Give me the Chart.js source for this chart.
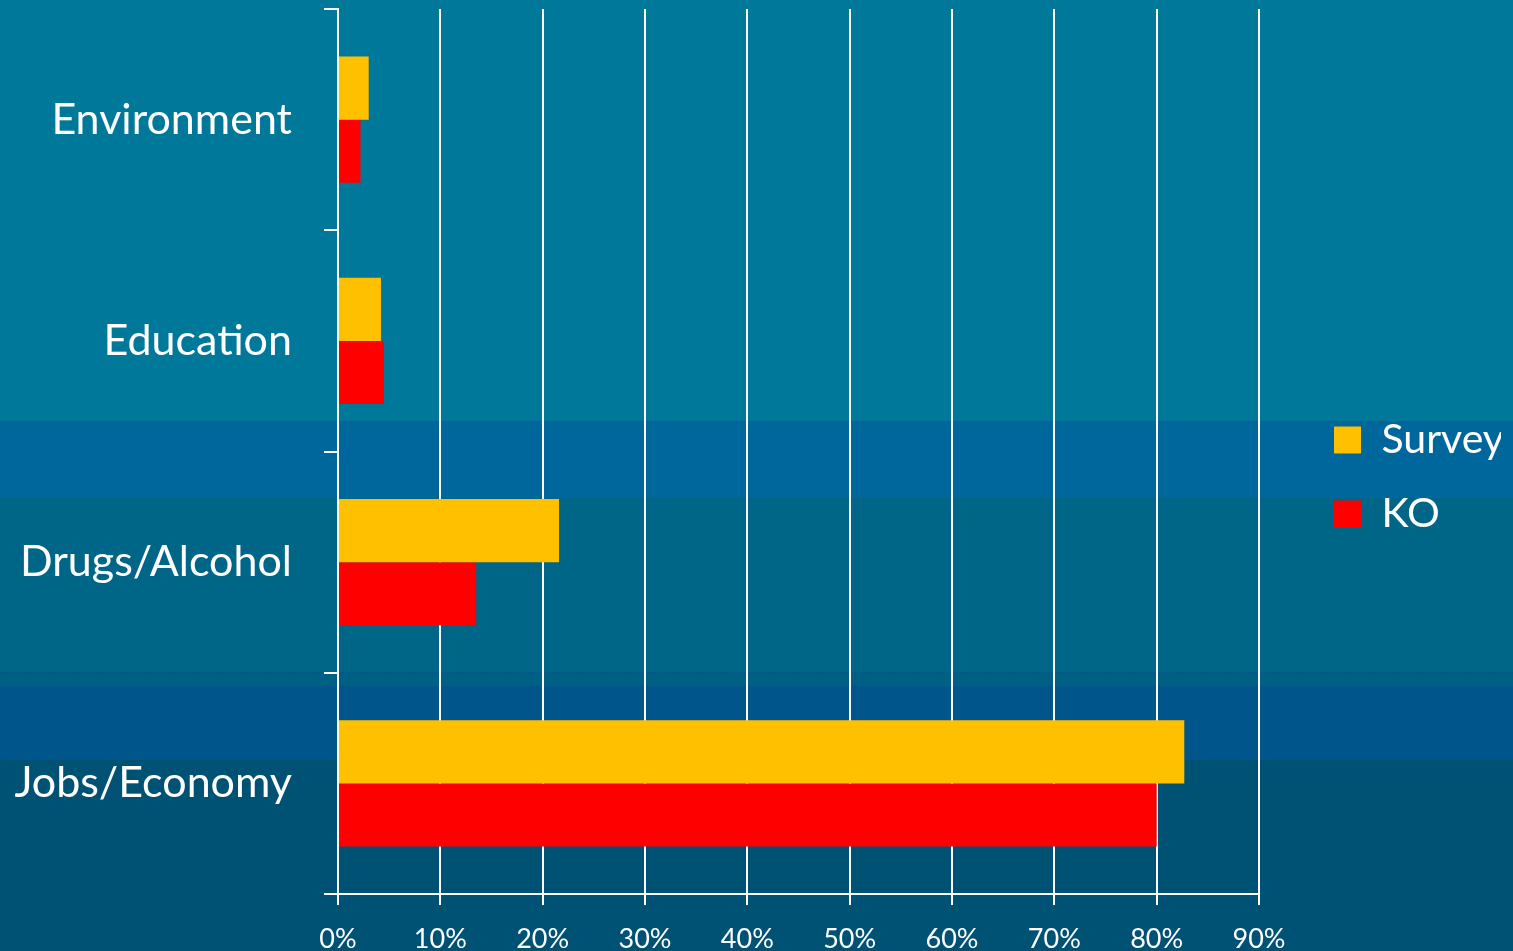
<!DOCTYPE html>
<html>
<head>
<meta charset="utf-8">
<script src="https://cdn.jsdelivr.net/npm/chart.js@4/dist/chart.umd.min.js"></script>
<style>
  html, body { margin: 0; padding: 0; background: #00789a; }
  #wrap { width: 1513px; height: 951px; position: relative; }
</style>
</head>
<body>
<div id="wrap"><canvas id="c" width="1513" height="951"></canvas></div>
<script>
const categories = ['Environment', 'Education', 'Drugs/Alcohol', 'Jobs/Economy'];
const surveyValues = [3.0, 4.2, 21.6, 82.7];
const koValues = [2.2, 4.5, 13.5, 80.0];
const seriesNames = ['Survey', 'KO'];
const xTickMax = 90;
const xTickStep = 10;

const FONT = 'Lato, "Open Sans", sans-serif';
const LEGEND_PAD = 33;

const bgBands = {
  id: 'bgBands',
  beforeDraw(chart) {
    const ctx = chart.ctx;
    const W = chart.width, H = chart.height;
    const bands = [
      [0, 421, '#00789a'],
      [421, 498, '#00679c'],
      [498, 672, '#006687'],
      [672, 686, '#006084'],
      [686, 760, '#00568a'],
      [760, H, '#005275']
    ];
    ctx.save();
    bands.forEach(([y0, y1, c]) => { ctx.fillStyle = c; ctx.fillRect(0, y0, W, y1 - y0); });
    ctx.strokeStyle = '#005a8a';
    ctx.lineWidth = 2;
    ctx.setLineDash([8, 4]);
    ctx.beginPath(); ctx.moveTo(0, 673); ctx.lineTo(W, 673); ctx.stroke();
    ctx.restore();
  }
};

const legendShift = {
  id: 'legendShift',
  afterLayout(chart) {
    const lg = chart.legend;
    if (!lg) return;
    const w = lg.width, h = lg.height;
    lg.left = 1334 - LEGEND_PAD;
    lg.right = lg.left + w;
    lg.top = lg.top - 3;
    lg.bottom = lg.top + h;
  }
};

new Chart(document.getElementById('c'), {
  type: 'bar',
  data: {
    labels: categories,
    datasets: [
      { label: seriesNames[0], data: surveyValues, backgroundColor: '#ffc000', borderWidth: 0 },
      { label: seriesNames[1], data: koValues, backgroundColor: '#ff0000', borderWidth: 0 }
    ]
  },
  options: {
    indexAxis: 'y',
    responsive: false,
    animation: false,
    layout: { padding: { top: 9, right: 54, left: 0, bottom: 0 } },
    datasets: { bar: { categoryPercentage: 0.57, barPercentage: 1.0 } },
    scales: {
      x: {
        min: 0, max: xTickMax,
        ticks: {
          stepSize: xTickStep,
          color: '#ffffff',
          font: { family: FONT, size: 27 },
          padding: 18,
          callback: v => v + '%'
        },
        grid: { color: '#ffffff', lineWidth: 2, drawOnChartArea: true, drawTicks: true, tickLength: 11 },
        border: { color: '#ffffff', width: 2 },
        afterFit(scale) { scale.height = 57; }
      },
      y: {
        ticks: {
          color: '#ffffff',
          font: { family: FONT, size: 43 },
          padding: 32
        },
        grid: { color: '#ffffff', lineWidth: 2, drawOnChartArea: false, drawTicks: true, tickLength: 14, offset: true },
        border: { color: '#ffffff', width: 2 },
        afterFit(scale) { scale.width = 338; scale.paddingTop = 0; scale.paddingBottom = 0; }
      }
    },
    plugins: {
      legend: {
        position: 'right',
        align: 'center',
        maxWidth: 200,
        labels: {
          color: '#ffffff',
          font: { family: FONT, size: 41 },
          boxWidth: 27,
          boxHeight: 27,
          padding: LEGEND_PAD
        }
      },
      tooltip: { enabled: false }
    }
  },
  plugins: [bgBands, legendShift]
});
</script>
</body>
</html>
